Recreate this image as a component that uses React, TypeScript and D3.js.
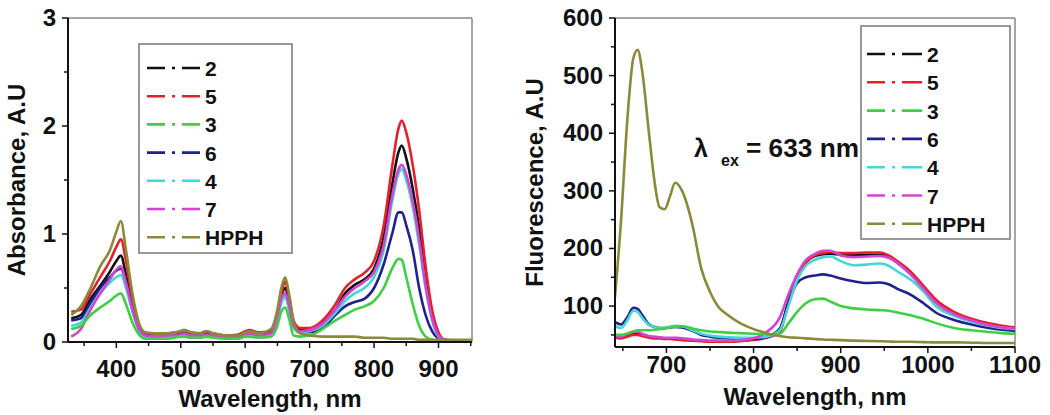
import React from "react";
import * as d3 from "d3";

// ---------- Data: Absorbance (left panel) ----------
const absWl = [330, 345, 360, 375, 390, 400, 407, 415, 425, 435, 445, 460, 480, 500, 505, 515, 530, 540, 550, 570, 590, 600, 607, 620, 640, 650, 656, 662, 668, 675, 685, 700, 720, 740, 755, 770, 785, 800, 815, 828, 838, 843, 850, 860, 870, 880, 890, 900, 910, 930, 952];

const abs2 = [0.22, 0.25, 0.4, 0.52, 0.65, 0.75, 0.8, 0.62, 0.35, 0.14, 0.07, 0.06, 0.07, 0.08, 0.09, 0.07, 0.07, 0.08, 0.07, 0.05, 0.06, 0.08, 0.09, 0.07, 0.09, 0.25, 0.42, 0.5, 0.38, 0.18, 0.11, 0.12, 0.18, 0.3, 0.45, 0.53, 0.58, 0.68, 0.97, 1.45, 1.76, 1.82, 1.7, 1.42, 1.05, 0.58, 0.24, 0.07, 0.02, 0.01, 0.01];
const abs5 = [0.28, 0.3, 0.45, 0.6, 0.75, 0.88, 0.95, 0.75, 0.4, 0.15, 0.08, 0.07, 0.08, 0.1, 0.11, 0.09, 0.08, 0.1, 0.08, 0.06, 0.07, 0.1, 0.11, 0.09, 0.1, 0.28, 0.45, 0.56, 0.42, 0.2, 0.13, 0.13, 0.2, 0.35, 0.5, 0.58, 0.64, 0.75, 1.08, 1.62, 1.98, 2.05, 1.94, 1.64, 1.22, 0.7, 0.3, 0.09, 0.02, 0.01, 0.01];
const abs3 = [0.12, 0.15, 0.25, 0.32, 0.38, 0.43, 0.45, 0.35, 0.18, 0.07, 0.03, 0.03, 0.03, 0.05, 0.05, 0.04, 0.04, 0.05, 0.04, 0.03, 0.03, 0.05, 0.05, 0.04, 0.05, 0.15, 0.28, 0.32, 0.22, 0.06, 0.05, 0.06, 0.12, 0.2, 0.25, 0.3, 0.33, 0.38, 0.5, 0.68, 0.77, 0.76, 0.6, 0.35, 0.15, 0.05, 0.02, 0.01, 0.01, 0.01, 0.01];
const abs6 = [0.2, 0.22, 0.36, 0.5, 0.6, 0.66, 0.68, 0.55, 0.3, 0.12, 0.06, 0.05, 0.06, 0.07, 0.08, 0.06, 0.06, 0.07, 0.06, 0.05, 0.05, 0.07, 0.08, 0.06, 0.08, 0.22, 0.38, 0.42, 0.32, 0.14, 0.09, 0.09, 0.13, 0.25, 0.33, 0.37, 0.4, 0.5, 0.72, 1.0, 1.2, 1.2, 1.08, 0.85, 0.5, 0.25, 0.1, 0.03, 0.01, 0.01, 0.01];
const abs4 = [0.15, 0.18, 0.32, 0.45, 0.55, 0.6, 0.62, 0.5, 0.28, 0.11, 0.05, 0.05, 0.05, 0.06, 0.07, 0.06, 0.05, 0.06, 0.05, 0.04, 0.05, 0.06, 0.07, 0.06, 0.07, 0.22, 0.36, 0.42, 0.3, 0.13, 0.09, 0.1, 0.15, 0.27, 0.38, 0.45, 0.5, 0.6, 0.85, 1.3, 1.56, 1.6, 1.5, 1.25, 0.9, 0.5, 0.2, 0.05, 0.01, 0.01, 0.01];
const abs7 = [0.05, 0.12, 0.3, 0.45, 0.58, 0.67, 0.7, 0.55, 0.3, 0.12, 0.06, 0.05, 0.06, 0.07, 0.08, 0.06, 0.06, 0.07, 0.06, 0.05, 0.05, 0.07, 0.08, 0.06, 0.08, 0.24, 0.4, 0.45, 0.34, 0.15, 0.1, 0.11, 0.17, 0.3, 0.42, 0.5, 0.56, 0.65, 0.9, 1.35, 1.6, 1.64, 1.55, 1.3, 0.95, 0.52, 0.22, 0.06, 0.02, 0.01, 0.01];
const absHPPH = [0.25, 0.33, 0.5, 0.7, 0.85, 1.02, 1.12, 0.85, 0.45, 0.18, 0.09, 0.08, 0.08, 0.1, 0.11, 0.09, 0.08, 0.1, 0.08, 0.06, 0.06, 0.09, 0.1, 0.08, 0.12, 0.3, 0.5, 0.6, 0.45, 0.2, 0.08, 0.06, 0.05, 0.05, 0.05, 0.05, 0.04, 0.04, 0.04, 0.03, 0.03, 0.03, 0.03, 0.03, 0.02, 0.02, 0.02, 0.02, 0.02, 0.02, 0.02];

// ---------- Data: Fluorescence (right panel) ----------
const flWl = [641, 648, 655, 662, 667, 672, 680, 686, 692, 698, 704, 710, 718, 730, 740, 750, 760, 770, 785, 800, 815, 830, 840, 850, 860, 870, 880, 888, 900, 915, 930, 945, 955, 965, 980, 995, 1010, 1030, 1050, 1070, 1085, 1100];

const fl2 = [46, 45, 49, 52, 52, 50, 46, 45, 45, 44, 44, 43, 42, 41, 40, 39, 39, 39, 40, 42, 47, 60, 108, 150, 176, 187, 190, 191, 189, 188, 189, 189, 185, 175, 157, 132, 107, 88, 76, 68, 64, 62];
const fl5 = [45, 44, 47, 50, 50, 48, 45, 44, 44, 43, 43, 42, 41, 40, 39, 38, 38, 38, 39, 41, 45, 55, 105, 150, 175, 188, 192, 194, 192, 192, 193, 193, 188, 178, 160, 135, 110, 90, 78, 70, 66, 63];
const fl3 = [50, 50, 52, 56, 58, 58, 58, 59, 60, 61, 63, 64, 65, 61, 58, 56, 55, 54, 53, 52, 51, 52, 70, 90, 105, 112, 113, 108, 100, 96, 94, 93, 92, 89, 84, 78, 70, 62, 58, 55, 53, 52];
const fl6 = [72, 68, 80, 97, 95, 85, 68, 64, 62, 62, 63, 64, 63, 57, 50, 47, 45, 44, 43, 43, 46, 60, 105, 140, 150, 153, 155, 153, 148, 143, 140, 141, 138, 130, 120, 105, 88, 76, 68, 62, 59, 57];
const fl4 = [65, 62, 75, 92, 90, 80, 67, 64, 62, 62, 64, 66, 65, 58, 52, 49, 47, 46, 45, 45, 47, 58, 100, 145, 170, 180, 185, 186, 178, 171, 172, 174, 170, 160, 146, 125, 99, 83, 73, 66, 62, 60];
const fl7 = [48, 47, 52, 56, 56, 52, 48, 47, 46, 45, 45, 45, 44, 42, 41, 40, 40, 40, 41, 44, 55, 80, 120, 155, 180, 190, 196, 196, 188, 185, 186, 187, 184, 175, 155, 130, 105, 86, 75, 67, 63, 61];
const flHPPH = [116, 250, 420, 530, 545, 510, 400, 320, 272, 268, 290, 314, 300, 240, 165, 125, 98, 85, 70, 60, 53, 48, 46, 45, 44, 43, 42, 41.5, 41, 40, 39.5, 39, 38.5, 38, 38, 37.5, 37, 37, 36.5, 36, 36, 36];

// ---------- Legend / ticks ----------
const seriesNames = ["2", "5", "3", "6", "4", "7", "HPPH"];
const seriesColors = ["#111111", "#e3202c", "#3fcf45", "#20208f", "#45d6d6", "#d245d2", "#8a8a3a"];
const absSeries = [abs2, abs5, abs3, abs6, abs4, abs7, absHPPH];
const flSeries = [fl2, fl5, fl3, fl6, fl4, fl7, flHPPH];
const drawOrder = [0, 1, 3, 4, 5, 2, 6];

const absXTicks = [400, 500, 600, 700, 800, 900];
const absXMinor = [350, 450, 550, 650, 750, 850, 950];
const absYTicks = [0, 1, 2, 3];
const absYMinor = [0.5, 1.5, 2.5];

const flXTicks = [700, 800, 900, 1000, 1100];
const flXMinor = [650, 750, 850, 950, 1050];
const flYTicks = [100, 200, 300, 400, 500, 600];
const flYMinor = [50, 150, 250, 350, 450, 550];

const FONT = "'Liberation Sans', Arial, sans-serif";

type PanelProps = {
  x0: number; x1: number; y0: number; y1: number;
  xDomain: [number, number]; yDomain: [number, number];
  wl: number[]; series: number[][];
  xTicks: number[]; xMinor: number[]; yTicks: number[]; yMinor: number[];
  yTitle: string; yTitleX: number; yLabelX: number; xLabelY: number; xTitleY: number;
  legend: { x: number; y: number; w: number; h: number; lineX0: number; lineX1: number; firstY: number; step: number };
  clipId: string;
};

function Panel(p: PanelProps) {
  const xs = d3.scaleLinear().domain(p.xDomain).range([p.x0, p.x1]);
  const ys = d3.scaleLinear().domain(p.yDomain).range([p.y1, p.y0]);
  const line = (vals: number[]) =>
    d3.line<number>()
      .x((_, i) => xs(p.wl[i]))
      .y((v) => ys(v))
      .curve(d3.curveMonotoneX)(vals) || "";
  const midY = (p.y0 + p.y1) / 2;
  return (
    <g>
      <defs>
        <clipPath id={p.clipId}>
          <rect x={p.x0} y={p.y0} width={p.x1 - p.x0} height={p.y1 - p.y0} />
        </clipPath>
      </defs>
      <line x1={p.x0} x2={p.x1} y1={p.y0} y2={p.y0} stroke="#888" strokeWidth={1.5} />
      <line x1={p.x1} x2={p.x1} y1={p.y0} y2={p.y1} stroke="#888" strokeWidth={1.5} />
      <g clipPath={`url(#${p.clipId})`}>
        {drawOrder.map((i) => (
          <path key={i} d={line(p.series[i])} fill="none" stroke={seriesColors[i]} strokeWidth={2.6} strokeLinejoin="round" />
        ))}
      </g>
      <line x1={p.x0} x2={p.x1} y1={p.y1} y2={p.y1} stroke="#111" strokeWidth={2} />
      <line x1={p.x0} x2={p.x0} y1={p.y0} y2={p.y1} stroke="#111" strokeWidth={2} />
      {p.xTicks.map((t) => (
        <g key={"xt" + t}>
          <line x1={xs(t)} x2={xs(t)} y1={p.y1} y2={p.y1 + 6} stroke="#111" strokeWidth={1.5} />
          <text x={xs(t)} y={p.xLabelY} textAnchor="middle" fontFamily={FONT} fontWeight="bold" fontSize={24} fill="#111">{t}</text>
        </g>
      ))}
      {p.xMinor.filter((t) => t >= p.xDomain[0] && t <= p.xDomain[1]).map((t) => (
        <line key={"xm" + t} x1={xs(t)} x2={xs(t)} y1={p.y1} y2={p.y1 + 4} stroke="#111" strokeWidth={1.5} />
      ))}
      {p.yTicks.map((t) => (
        <g key={"yt" + t}>
          <line x1={p.x0 - 6} x2={p.x0} y1={ys(t)} y2={ys(t)} stroke="#111" strokeWidth={1.5} />
          <text x={p.yLabelX} y={ys(t) + 8} textAnchor="end" fontFamily={FONT} fontWeight="bold" fontSize={24} fill="#111">{t}</text>
        </g>
      ))}
      {p.yMinor.map((t) => (
        <line key={"ym" + t} x1={p.x0 - 4} x2={p.x0} y1={ys(t)} y2={ys(t)} stroke="#111" strokeWidth={1.5} />
      ))}
      <text x={(p.x0 + p.x1) / 2} y={p.xTitleY} textAnchor="middle" fontFamily={FONT} fontWeight="bold" fontSize={24} fill="#111">Wavelength, nm</text>
      <text transform={`translate(${p.yTitleX},${midY}) rotate(-90)`} textAnchor="middle" fontFamily={FONT} fontWeight="bold" fontSize={24} fill="#111">{p.yTitle}</text>
      <rect x={p.legend.x} y={p.legend.y} width={p.legend.w} height={p.legend.h} fill="#fff" stroke="#777" strokeWidth={1.5} />
      {seriesNames.map((n, i) => {
        const ly = p.legend.firstY + i * p.legend.step;
        return (
          <g key={"lg" + n}>
            <line x1={p.legend.lineX0} x2={p.legend.lineX1} y1={ly} y2={ly} stroke={seriesColors[i]} strokeWidth={2.6} strokeDasharray="18 7 3 7 30" />
            <text x={p.legend.lineX1 + 5} y={ly + 8} fontFamily={FONT} fontWeight="bold" fontSize={21} fill="#111">{n}</text>
          </g>
        );
      })}
    </g>
  );
}

export default function App() {
  return (
    <svg width={1050} height={415} style={{ position: "absolute", left: 0, top: 0, background: "#fff" }}>
      <rect x={0} y={0} width={1050} height={415} fill="#fff" />
      <Panel
        x0={68} x1={472} y0={18} y1={342}
        xDomain={[325, 952]} yDomain={[0, 3]}
        wl={absWl} series={absSeries}
        xTicks={absXTicks} xMinor={absXMinor} yTicks={absYTicks} yMinor={absYMinor}
        yTitle="Absorbance, A.U" yTitleX={25} yLabelX={56} xLabelY={377} xTitleY={407}
        legend={{ x: 139, y: 44, w: 153, h: 209, lineX0: 147, lineX1: 200, firstY: 68, step: 28.2 }}
        clipId="clipA"
      />
      <Panel
        x0={615} x1={1015} y0={18} y1={347}
        xDomain={[641, 1100]} yDomain={[29, 600]}
        wl={flWl} series={flSeries}
        xTicks={flXTicks} xMinor={flXMinor} yTicks={flYTicks} yMinor={flYMinor}
        yTitle="Fluorescence, A.U" yTitleX={543} yLabelX={603} xLabelY={373} xTitleY={405}
        legend={{ x: 861, y: 26, w: 149, h: 213, lineX0: 867, lineX1: 922, firstY: 54, step: 28.3 }}
        clipId="clipF"
      />
      <text x={694} y={157} fontFamily={FONT} fontWeight="bold" fontSize={25} fill="#111">λ</text>
      <text x={721} y={166} fontFamily={FONT} fontWeight="bold" fontSize={16} fill="#111">ex</text>
      <text x={746} y={157} fontFamily={FONT} fontWeight="bold" fontSize={26} fill="#111" textLength={113} lengthAdjust="spacingAndGlyphs">= 633 nm</text>
    </svg>
  );
}
